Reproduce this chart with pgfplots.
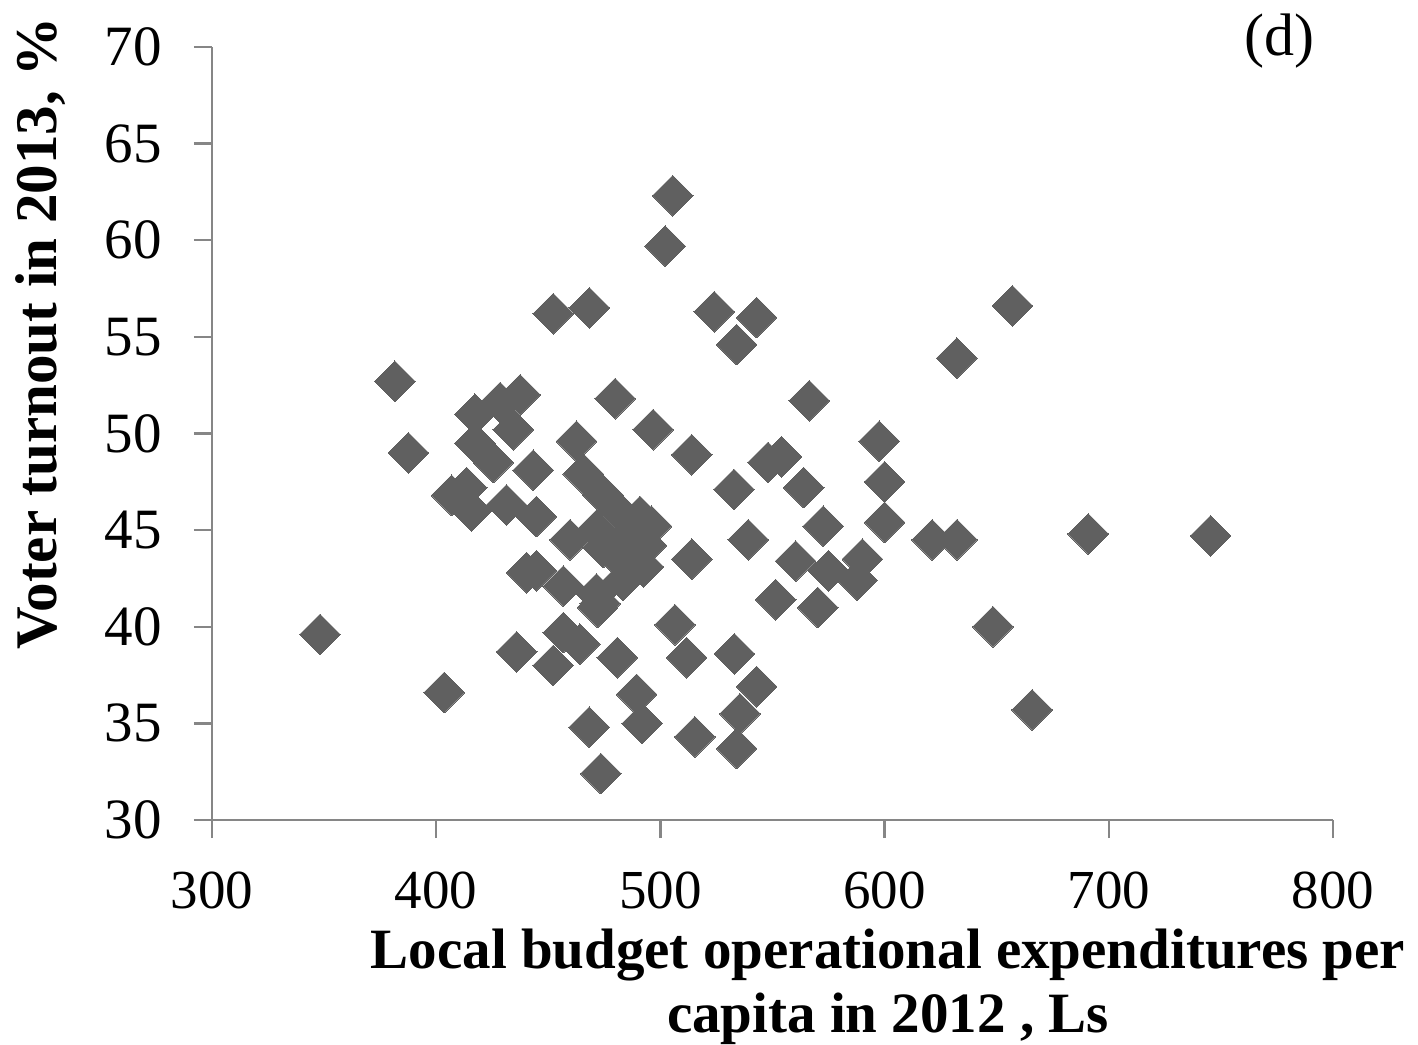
\documentclass[border=0pt]{standalone}
\usepackage{fontspec}
\setmainfont{Liberation Serif}
\usepackage{pgfplots}
\pgfplotsset{compat=1.18}
\definecolor{markgray}{RGB}{96,96,96}
\definecolor{axisgray}{RGB}{134,134,134}

% turnout vs budget expenditures
\pgfplotstableread{
x y
505.5 62.3
502.1 59.7
452.2 56.2
468.3 56.5
524.0 56.3
542.9 56.0
534.0 54.6
657.0 56.6
632.2 53.9
381.6 52.7
387.6 49.0
437.4 52.0
428.5 51.6
417.3 51.0
434.4 50.2
417.3 49.5
425.5 48.5
443.3 48.1
406.9 46.8
413.6 47.2
415.8 46.0
431.4 46.3
444.7 45.7
479.8 51.8
496.8 50.2
514.0 48.9
462.6 49.6
465.6 47.9
474.5 46.8
490.9 45.7
481.0 46.0
496.0 45.2
486.0 44.8
459.7 44.5
474.5 44.1
471.5 45.0
479.0 43.8
493.8 44.2
492.4 43.1
488.0 43.0
483.4 42.4
440.3 42.8
444.7 42.9
456.7 42.1
471.5 41.7
473.1 41.2
514.0 43.5
506.5 40.1
511.7 38.4
348.2 39.6
403.6 36.6
435.9 38.7
456.7 39.7
464.1 39.1
452.2 38.0
472.0 41.0
480.8 38.4
489.4 36.5
491.9 35.0
468.3 34.8
473.4 32.4
515.4 34.3
533.0 38.6
542.9 36.9
535.5 35.5
534.0 33.7
551.4 41.4
570.2 41.0
566.4 51.7
597.6 49.6
600.0 47.5
600.0 45.4
621.2 44.5
632.3 44.5
690.8 44.8
745.4 44.7
648.3 40.0
665.8 35.7
548.0 48.5
554.0 48.8
532.8 47.1
563.9 47.2
572.6 45.2
539.2 44.5
560.3 43.4
575.0 42.9
590.1 43.5
587.8 42.4
}\turnout

\begin{document}
\begin{tikzpicture}
\begin{axis}[
    at={(0,0)}, anchor=south west,
    scale only axis,
    width=560.5pt, height=386.5pt,
    xmin=300, xmax=800, ymin=30, ymax=70,
    xtick={300,400,...,800},
    ytick={30,35,...,70},
    axis x line*=bottom, axis y line*=left,
    axis line style={axisgray, line width=1.2pt, -},
    tick style={axisgray, line width=1.2pt},
    tick align=outside,
    major tick length=9pt,
    /pgf/number format/assume math mode=true,
    ticklabel style={font=\fontsize{28.5}{30}\selectfont},
    yticklabel style={anchor=east, inner sep=0pt, xshift=-16pt},
    xticklabel style={anchor=north, inner sep=0pt, yshift=-17pt, font=\fontsize{27.5}{29}\selectfont},
    every axis y label/.style={at={(axis description cs:-0.1383,0.6294)}, anchor=base, rotate=90,
        font=\bfseries\fontsize{29.5}{35}\selectfont, inner sep=0pt},
    every axis x label/.style={at={(axis description cs:0.603,-0.141)}, anchor=north, align=center,
        font=\bfseries\fontsize{28.5}{32}\selectfont, inner sep=0pt},
    ylabel={Voter turnout in 2013, \%},
    xlabel={Local budget operational expenditures per\\capita in 2012 , Ls},
    clip=false,
]
\addplot[only marks, mark=square*, mark size=7.2pt,
    mark options={rotate=45, fill=markgray, draw=markgray, line width=0pt}]
    table[x=x, y=y] {\turnout};
\node[font=\fontsize{30}{32}\selectfont, anchor=center] at (axis cs:776,70.3) {(d)};
\end{axis}
\pgfresetboundingbox
\path (-106pt,-112pt) rectangle (603pt,410pt);
\end{tikzpicture}
\end{document}
